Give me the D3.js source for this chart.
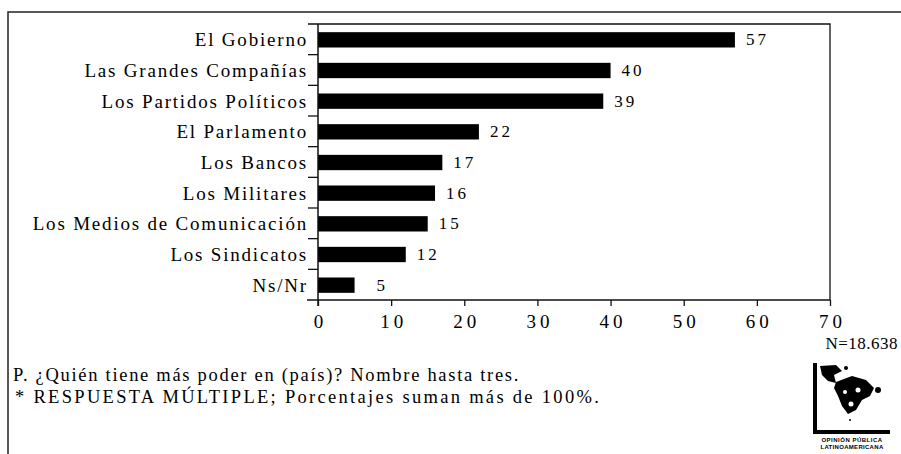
<!DOCTYPE html>
<html><head><meta charset="utf-8">
<script src="https://cdn.jsdelivr.net/npm/d3@7"></script>
<style>
body{margin:0;background:#fff;}
svg{display:block;font-family:"Liberation Serif","Times New Roman",serif;}
</style></head>
<body>
<svg id="c" width="901" height="454"></svg>
<script>
const categories = ["El Gobierno","Las Grandes Compañías","Los Partidos Políticos","El Parlamento","Los Bancos","Los Militares","Los Medios de Comunicación","Los Sindicatos","Ns/Nr"];
const values = [57,40,39,22,17,16,15,12,5];
const xTicks = [0,10,20,30,40,50,60,70];
const note = "N=18.638";
const footnotes = ["P. ¿Quién tiene más poder en (país)? Nombre hasta tres.","* RESPUESTA MÚLTIPLE; Porcentajes suman más de 100%."];

const svg = d3.select("#c");
const L = 318, R = 830, T = 24, B = 300;
const x = d3.scaleLinear().domain([0,70]).range([L,R]);
const y = d3.scaleBand().domain(categories).range([T,B]).paddingInner(0.5).paddingOuter(0.25);

// outer frame
svg.append("path").attr("d","M8,454V12H901").attr("fill","none").attr("stroke","#222").attr("stroke-width",1.5);

// plot frame top and right
svg.append("path").attr("d",`M${L-10},${T}H${R}V${B}`).attr("fill","none").attr("stroke","#111").attr("stroke-width",1.3);

// bars
svg.selectAll("rect.bar").data(values).join("rect")
  .attr("x",x(0)).attr("y",(d,i)=>y(categories[i])+0.5)
  .attr("width",d=>x(d)-x(0)).attr("height",y.bandwidth())
  .attr("fill","#000");

// value labels
svg.selectAll("text.val").data(values).join("text")
  .attr("x",d=>x(d)+ (d<10?22:11)).attr("y",(d,i)=>y(categories[i])+y.bandwidth()/2+6)
  .attr("font-size",17).attr("letter-spacing",3).text(d=>d);

// x axis
const xa = svg.append("g").attr("transform",`translate(0,${B})`)
  .call(d3.axisBottom(x).tickValues(xTicks).tickSize(6).tickPadding(9).tickSizeOuter(0));
xa.select(".domain").remove();
xa.selectAll("line").attr("stroke","#111").attr("stroke-width",1.3);
xa.selectAll("text").attr("font-family","Liberation Serif").attr("font-size",19).attr("letter-spacing",4).attr("dx",2).attr("fill","#000");
svg.append("line").attr("x1",L-11).attr("x2",R).attr("y1",B).attr("y2",B).attr("stroke","#111").attr("stroke-width",1.5);

// y axis
svg.append("line").attr("x1",L).attr("x2",L).attr("y1",T).attr("y2",B+6).attr("stroke","#111").attr("stroke-width",1.5);
const bounds = categories.slice(1).map(c=>y(c)-y.step()*y.paddingInner()/2);
svg.selectAll("line.yt").data(bounds).join("line")
  .attr("x1",L-10).attr("x2",L).attr("y1",d=>d).attr("y2",d=>d).attr("stroke","#111").attr("stroke-width",1.3);
svg.selectAll("text.cat").data(categories).join("text")
  .attr("x",L-10).attr("y",c=>y(c)+y.bandwidth()/2+7)
  .attr("text-anchor","end").attr("font-size",19).attr("letter-spacing",1.8).text(c=>c);

// N note
svg.append("text").attr("x",898).attr("y",349).attr("text-anchor","end").attr("font-size",17).attr("letter-spacing",0.5).text(note);

// footnotes
svg.selectAll("text.fn").data(footnotes).join("text")
  .attr("x",(d,i)=>i?15:13).attr("y",(d,i)=>381+i*22).attr("font-size",18.5)
  .attr("letter-spacing",(d,i)=>i?2.3:1.7).text(d=>d);

// logo (approximation)
const lg = svg.append("g");
lg.append("rect").attr("x",813).attr("y",363).attr("width",4).attr("height",71).attr("fill","#000");
lg.append("rect").attr("x",813).attr("y",430).attr("width",77).attr("height",4).attr("fill","#000");
lg.append("path").attr("d","M820,366 L836,365 L842,371 L834,375 L836,383 L828,381 L822,375Z").attr("fill","#000");
lg.append("path").attr("d","M836,382 L852,376 L866,380 L874,388 L870,396 L862,400 L856,410 L848,414 L842,406 L838,396 L834,388Z").attr("fill","#000");
lg.append("circle").attr("cx",878).attr("cy",390).attr("r",3).attr("fill","#000");
lg.append("circle").attr("cx",846).attr("cy",368).attr("r",2).attr("fill","#000");
lg.append("circle").attr("cx",851).attr("cy",404).attr("r",2.5).attr("fill","#fff");
lg.append("circle").attr("cx",858).attr("cy",390).attr("r",2.5).attr("fill","#fff");
lg.append("circle").attr("cx",845).attr("cy",392).attr("r",2).attr("fill","#fff");
lg.append("circle").attr("cx",850).attr("cy",420).attr("r",1).attr("fill","#000");
lg.append("text").attr("x",852).attr("y",442).attr("text-anchor","middle").attr("font-family","Liberation Sans").attr("font-weight","bold").attr("font-size",6).attr("letter-spacing",0.5).text("OPINIÓN PÚBLICA");
lg.append("text").attr("x",852).attr("y",449).attr("text-anchor","middle").attr("font-family","Liberation Sans").attr("font-weight","bold").attr("font-size",6).attr("letter-spacing",0.3).text("LATINOAMERICANA");
</script>
</body></html>
